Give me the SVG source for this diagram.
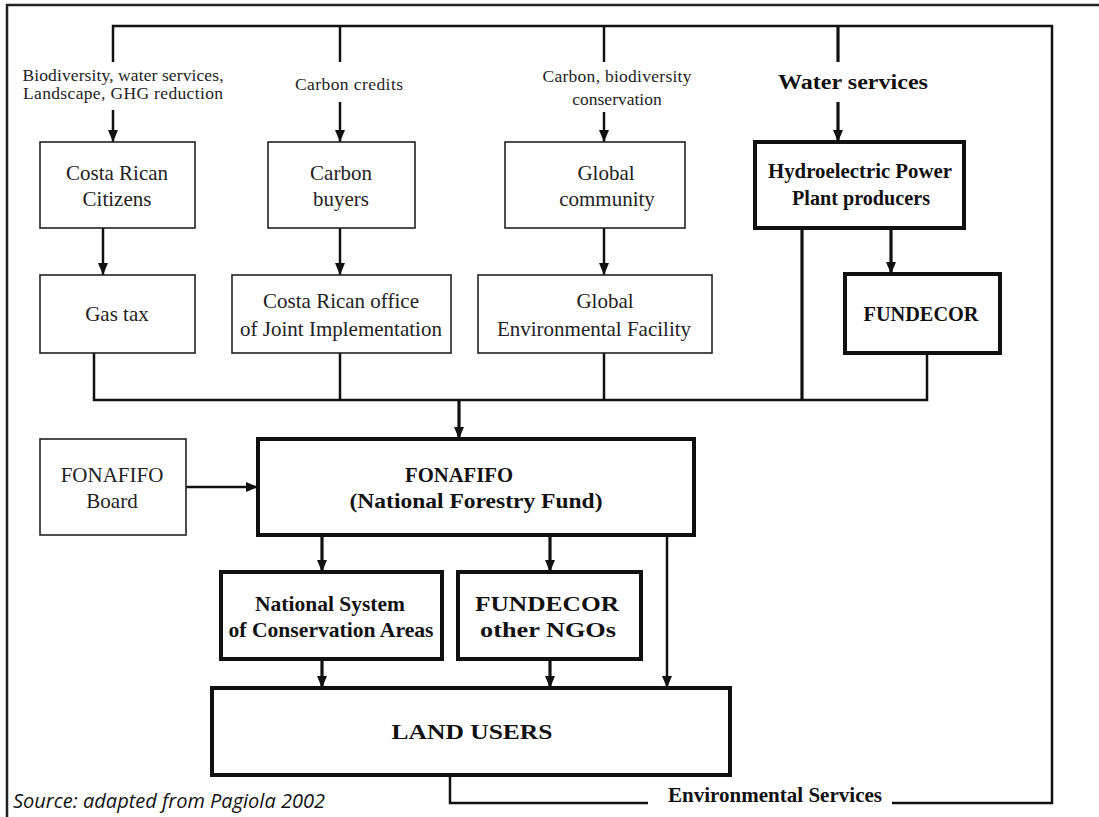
<svg xmlns="http://www.w3.org/2000/svg" width="1099" height="817" viewBox="0 0 1099 817">
<defs>
<marker id="ah" markerUnits="userSpaceOnUse" markerWidth="12" markerHeight="12" viewBox="0 0 12 12" refX="12" refY="6" orient="auto">
<path d="M0,1 L12,6 L0,11 Z" fill="#111"/>
</marker>
<style>
.thin{fill:#fff;stroke:#222;stroke-width:1.6}
.thick{fill:#fff;stroke:#111;stroke-width:4}
.ln{fill:none;stroke:#111;stroke-width:2.5}
.lnb{fill:none;stroke:#111;stroke-width:3.2}
.t{font-family:"Liberation Serif",serif;font-size:21px;fill:#222;text-anchor:middle}
.tb{font-family:"Liberation Serif",serif;font-size:21px;font-weight:bold;fill:#111;text-anchor:middle}
.lab{font-family:"Liberation Serif",serif;font-size:17.5px;fill:#222;text-anchor:middle}
.src{font-family:"Open Sans","Liberation Sans",sans-serif;font-style:italic;font-size:20px;fill:#111}
</style>
</defs>
<rect width="1099" height="817" fill="#fff"/>
<path d="M7,817 V5 H1099" fill="none" stroke="#222" stroke-width="2.5"/>

<g id="connectors">
<path class="ln" d="M113,62 V26 H1052 V803 H892"/>
<path class="ln" d="M340,26 V62"/>
<path class="ln" d="M604,26 V62"/>
<path class="lnb" d="M838,26 V62"/>
<path class="ln" d="M648,803 H450 V775"/>
<path class="ln" d="M113,110 V142" marker-end="url(#ah)"/>
<path class="ln" d="M340,102 V142" marker-end="url(#ah)"/>
<path class="ln" d="M604,112 V142" marker-end="url(#ah)"/>
<path class="lnb" d="M838,102 V142" marker-end="url(#ah)"/>
<path class="ln" d="M103,228 V275" marker-end="url(#ah)"/>
<path class="ln" d="M340,228 V275" marker-end="url(#ah)"/>
<path class="ln" d="M604,228 V275" marker-end="url(#ah)"/>
<path class="lnb" d="M891,228 V274" marker-end="url(#ah)"/>
<path class="lnb" d="M802,228 V400"/>
<path class="ln" d="M94,353 V400 H927 V353"/>
<path class="ln" d="M340,353 V400"/>
<path class="ln" d="M604,353 V400"/>
<path class="lnb" d="M459,400 V439" marker-end="url(#ah)"/>
<path class="ln" d="M186,487 H258" marker-end="url(#ah)"/>
<path class="lnb" d="M322,535 V572" marker-end="url(#ah)"/>
<path class="lnb" d="M550,535 V572" marker-end="url(#ah)"/>
<path class="ln" d="M667,535 V688" marker-end="url(#ah)"/>
<path class="lnb" d="M322,659 V688" marker-end="url(#ah)"/>
<path class="lnb" d="M550,659 V688" marker-end="url(#ah)"/>
</g>

<g id="labels">
<text class="lab" x="123" y="81" textLength="201">Biodiversity, water services,</text>
<text class="lab" x="123" y="99" textLength="200">Landscape, GHG reduction</text>
<text class="lab" x="349" y="90" textLength="108">Carbon credits</text>
<text class="lab" x="617" y="82" textLength="149">Carbon, biodiversity</text>
<text class="lab" x="617" y="105">conservation</text>
<text class="tb" x="853" y="89" textLength="150" lengthAdjust="spacingAndGlyphs" style="font-size:20px">Water services</text>
</g>

<g id="n-citizens"><rect class="thin" x="40" y="142" width="155" height="86"/>
<text class="t" x="117" y="180">Costa Rican</text><text class="t" x="117" y="206">Citizens</text></g>
<g id="n-carbonbuyers"><rect class="thin" x="268" y="142" width="147" height="86"/>
<text class="t" x="341" y="180">Carbon</text><text class="t" x="341" y="206">buyers</text></g>
<g id="n-global"><rect class="thin" x="505" y="142" width="180" height="86"/>
<text class="t" x="606" y="180">Global</text><text class="t" x="607" y="206">community</text></g>
<g id="n-hydro"><rect class="thick" x="755" y="142" width="209" height="86"/>
<text class="tb" x="860" y="178" textLength="184" lengthAdjust="spacingAndGlyphs">Hydroelectric Power</text><text class="tb" x="861" y="205" textLength="138" lengthAdjust="spacingAndGlyphs">Plant producers</text></g>

<g id="n-gastax"><rect class="thin" x="40" y="275" width="155" height="78"/>
<text class="t" x="117" y="321">Gas tax</text></g>
<g id="n-joint"><rect class="thin" x="232" y="275" width="219" height="78"/>
<text class="t" x="341" y="308">Costa Rican office</text><text class="t" x="341" y="336">of Joint Implementation</text></g>
<g id="n-gef"><rect class="thin" x="478" y="275" width="234" height="78"/>
<text class="t" x="605" y="308">Global</text><text class="t" x="594" y="336">Environmental Facility</text></g>
<g id="n-fundecor1"><rect class="thick" x="845" y="274" width="155" height="79"/>
<text class="tb" x="921" y="321" textLength="115" lengthAdjust="spacingAndGlyphs">FUNDECOR</text></g>

<g id="n-board"><rect class="thin" x="40" y="439" width="146" height="96"/>
<text class="t" x="112" y="482">FONAFIFO</text><text class="t" x="112" y="508">Board</text></g>
<g id="n-fonafifo"><rect class="thick" x="258" y="439" width="436" height="96"/>
<text class="tb" x="459" y="482" textLength="108" lengthAdjust="spacingAndGlyphs">FONAFIFO</text><text class="tb" x="476" y="508" textLength="253" lengthAdjust="spacingAndGlyphs">(National Forestry Fund)</text></g>

<g id="n-sinac"><rect class="thick" x="221" y="572" width="221" height="87"/>
<text class="tb" x="330" y="611" textLength="150" lengthAdjust="spacingAndGlyphs">National System</text><text class="tb" x="331" y="637" textLength="205" lengthAdjust="spacingAndGlyphs">of Conservation Areas</text></g>
<g id="n-ngos"><rect class="thick" x="458" y="572" width="183" height="87"/>
<text class="tb" x="547" y="611" textLength="144" lengthAdjust="spacingAndGlyphs">FUNDECOR</text><text class="tb" x="548" y="637" textLength="136" lengthAdjust="spacingAndGlyphs">other NGOs</text></g>

<g id="n-landusers"><rect class="thick" x="212" y="688" width="518" height="87"/>
<text class="tb" x="472" y="739" textLength="161" lengthAdjust="spacingAndGlyphs" style="font-size:22px">LAND USERS</text></g>

<text class="tb" x="775" y="802" textLength="214" lengthAdjust="spacingAndGlyphs">Environmental Services</text>
<text class="src" x="13" y="808">Source: adapted from Pagiola 2002</text>
</svg>
